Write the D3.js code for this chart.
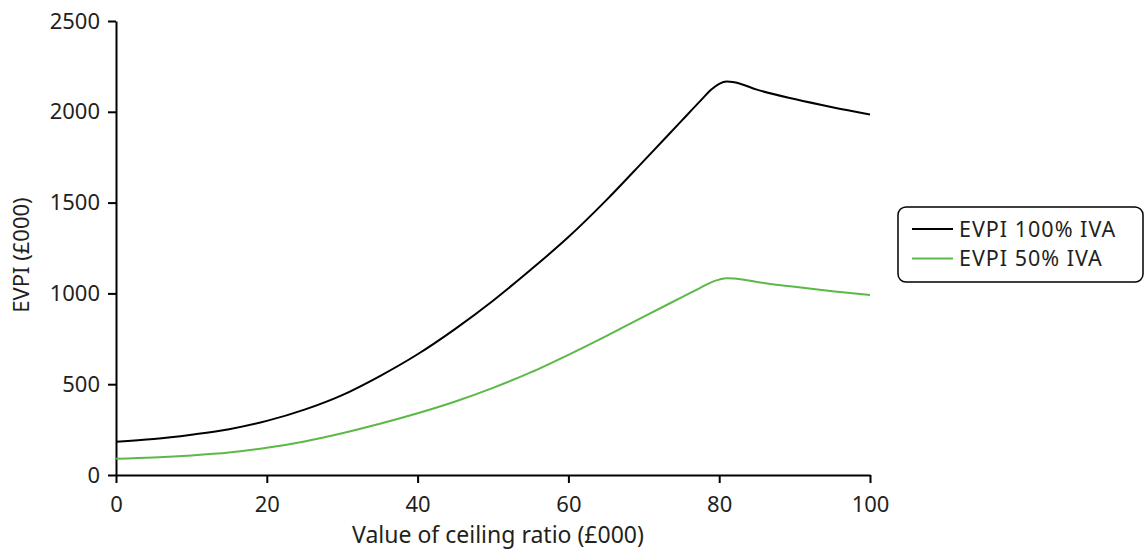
<!DOCTYPE html>
<html>
<head>
<meta charset="utf-8">
<script src="https://cdn.jsdelivr.net/npm/d3@7"></script>
<style>
  html, body { margin: 0; padding: 0; background: #fff; }
  svg { display: block; font-family: "Noto Sans", "Open Sans", sans-serif; }
</style>
</head>
<body>
<svg id="chart" width="1148" height="551"></svg>
<script>
// Ceiling ratio (£000) at which EVPI was evaluated
const ceiling = [0, 5, 10, 15, 20, 25, 30, 35, 40, 45, 50, 55, 60, 65, 70, 75, 77.5, 79, 80, 81, 82, 85, 90, 95, 100];
// EVPI (£000), full intervention uptake
const evpi100 = [183, 198, 222, 252, 298, 360, 440, 545, 665, 805, 960, 1130, 1310, 1512, 1730, 1950, 2060, 2124, 2154, 2167, 2163, 2122, 2070, 2025, 1985];
// EVPI (£000), half intervention uptake
const evpi50 = [90, 97, 108, 124, 150, 185, 230, 282, 340, 405, 480, 565, 662, 765, 872, 978, 1031, 1062, 1076, 1084, 1082, 1063, 1036, 1012, 991];

const xTicks = [0, 20, 40, 60, 80, 100];
const yTicks = [0, 500, 1000, 1500, 2000, 2500];
const seriesNames = ["EVPI 100% IVA", "EVPI 50% IVA"];
const seriesColors = ["#000000", "#5cb848"];

const textColor = "#231f20";
const svg = d3.select("#chart");

const x = d3.scaleLinear().domain([0, 100]).range([116, 870]);
const y = d3.scaleLinear().domain([0, 2500]).range([475, 21]);

// Axes
const xAxis = svg.append("g")
  .attr("transform", `translate(0,${y(0)})`)
  .call(d3.axisBottom(x).tickValues(xTicks).tickFormat(d3.format("d"))
    .tickSize(8).tickPadding(13).tickSizeOuter(0));
const yAxis = svg.append("g")
  .attr("transform", `translate(${x(0)},0)`)
  .call(d3.axisLeft(y).tickValues(yTicks).tickFormat(d3.format("d"))
    .tickSize(8).tickPadding(8).tickSizeOuter(0));

[xAxis, yAxis].forEach(g => {
  g.select(".domain").attr("stroke", "#000").attr("stroke-width", 2);
  g.selectAll(".tick line").attr("stroke", "#000").attr("stroke-width", 2);
  g.selectAll(".tick text")
    .attr("fill", textColor)
    .style("font-size", "22px")
    .style("font-family", "\"Noto Sans\", sans-serif");
});

// Axis titles
svg.append("text")
  .attr("x", 498).attr("y", 543)
  .attr("text-anchor", "middle")
  .attr("fill", textColor)
  .style("font-size", "23px")
  .text("Value of ceiling ratio (£000)");

svg.append("text")
  .attr("transform", "translate(29,255) rotate(-90)")
  .attr("text-anchor", "middle")
  .attr("fill", textColor)
  .style("font-size", "22px")
  .text("EVPI (£000)");

// Lines
const line = d3.line()
  .x(d => x(d[0]))
  .y(d => y(d[1]))
  .curve(d3.curveMonotoneX);

[evpi100, evpi50].forEach((vals, i) => {
  svg.append("path")
    .datum(ceiling.map((c, j) => [c, vals[j]]))
    .attr("fill", "none")
    .attr("stroke", seriesColors[i])
    .attr("stroke-width", 2)
    .attr("d", line);
});

// Legend
const legend = svg.append("g");
legend.append("rect")
  .attr("x", 898).attr("y", 207)
  .attr("width", 245).attr("height", 75)
  .attr("rx", 8).attr("ry", 8)
  .attr("fill", "#fff")
  .attr("stroke", "#000")
  .attr("stroke-width", 1.5);

seriesNames.forEach((name, i) => {
  const ly = 229 + i * 29.5;
  legend.append("line")
    .attr("x1", 912).attr("x2", 953)
    .attr("y1", ly).attr("y2", ly)
    .attr("stroke", seriesColors[i])
    .attr("stroke-width", 2);
  legend.append("text")
    .attr("x", 959).attr("y", ly + 7.5)
    .attr("fill", textColor)
    .style("font-size", "21.5px")
    .style("letter-spacing", "1px")
    .text(name);
});
</script>
</body>
</html>
